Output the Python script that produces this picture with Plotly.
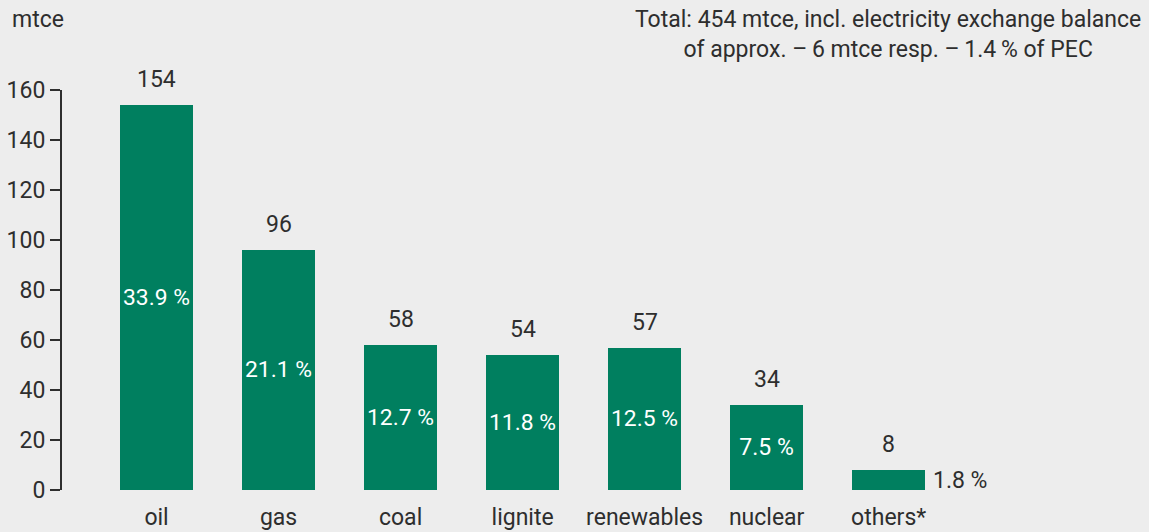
import plotly.graph_objects as go

categories = ["oil", "gas", "coal", "lignite", "renewables", "nuclear", "others*"]
values = [154, 96, 58, 54, 57, 34, 8]
shares = ["33.9 %", "21.1 %", "12.7 %", "11.8 %", "12.5 %", "7.5 %", "1.8 %"]
y_ticks = [0, 20, 40, 60, 80, 100, 120, 140, 160]

GREEN = "#007F5F"
DARK = "#2E2E2E"
BG = "#EDEDED"
FONT = "Roboto, Liberation Sans, sans-serif"
FS = 23

inside_text = shares[:-1] + [""]

fig = go.Figure()
fig.add_trace(go.Bar(
    x=list(range(len(categories))), y=values, width=0.6,
    marker=dict(color=GREEN, line=dict(width=0)),
    text=inside_text, textposition="inside", insidetextanchor="middle",
    textangle=0,
    insidetextfont=dict(family=FONT, size=FS, color="white"),
    cliponaxis=False, hoverinfo="skip",
))

annotations = []
for i, v in enumerate(values):
    annotations.append(dict(x=i, y=v, xref="x", yref="y", text=str(v),
                            showarrow=False, yanchor="bottom", yshift=10,
                            font=dict(family=FONT, size=FS, color=DARK)))
annotations.append(dict(x=6 + 0.3, y=values[6] / 2, xref="x", yref="y",
                        text=shares[6], showarrow=False, xanchor="left",
                        yanchor="middle", xshift=6, yshift=0,
                        font=dict(family=FONT, size=FS, color=DARK)))
annotations.append(dict(x=10, y=20, xref="paper", yref="paper", text="mtce",
                        showarrow=False, xanchor="left", yanchor="middle",
                        font=dict(family=FONT, size=FS, color=DARK)))
annotations.append(dict(x=888, y=34, xref="paper", yref="paper",
                        text="Total: 454 mtce, incl. electricity exchange balance<br>of approx. \u2013\u20096 mtce resp. \u2013\u20091.4\u2009% of PEC",
                        showarrow=False, xanchor="center", yanchor="middle", align="center",
                        font=dict(family=FONT, size=FS, color=DARK)))

W, H = 1149, 532
L, R, T, B = 62, 9, 90, 42
pw, ph = W - L - R, H - T - B
for a in annotations:
    if a["xref"] == "paper":
        a["x"] = (a["x"] - L) / pw
        a["y"] = (H - a["y"] - B) / ph

fig.update_layout(
    width=W, height=H,
    margin=dict(l=L, r=R, t=T, b=B, pad=0, autoexpand=False),
    paper_bgcolor=BG, plot_bgcolor=BG,
    showlegend=False,
    bargap=0,
    font=dict(family=FONT, size=FS, color=DARK),
    annotations=annotations,
    xaxis=dict(
        range=[-0.775, 8.06], tickmode="array",
        tickvals=list(range(len(categories))), ticktext=categories,
        showgrid=False, zeroline=False, showline=False, ticks="",
        tickfont=dict(family=FONT, size=FS, color=DARK),
        ticklabelstandoff=11, automargin=False,
    ),
    yaxis=dict(
        range=[0, 160], tickmode="array", tickvals=y_ticks,
        showgrid=False, zeroline=False, showline=True, linecolor=DARK, linewidth=2,
        ticks="outside", ticklen=10, tickwidth=2, tickcolor=DARK,
        tickfont=dict(family=FONT, size=FS, color=DARK),
        ticklabelstandoff=0, automargin=False,
    ),
)

fig.write_html(
    "out.html",
    config={"displayModeBar": False},
    post_script="document.body.style.margin='0';document.body.style.background='#EDEDED';document.body.style.overflow='hidden';",
)
